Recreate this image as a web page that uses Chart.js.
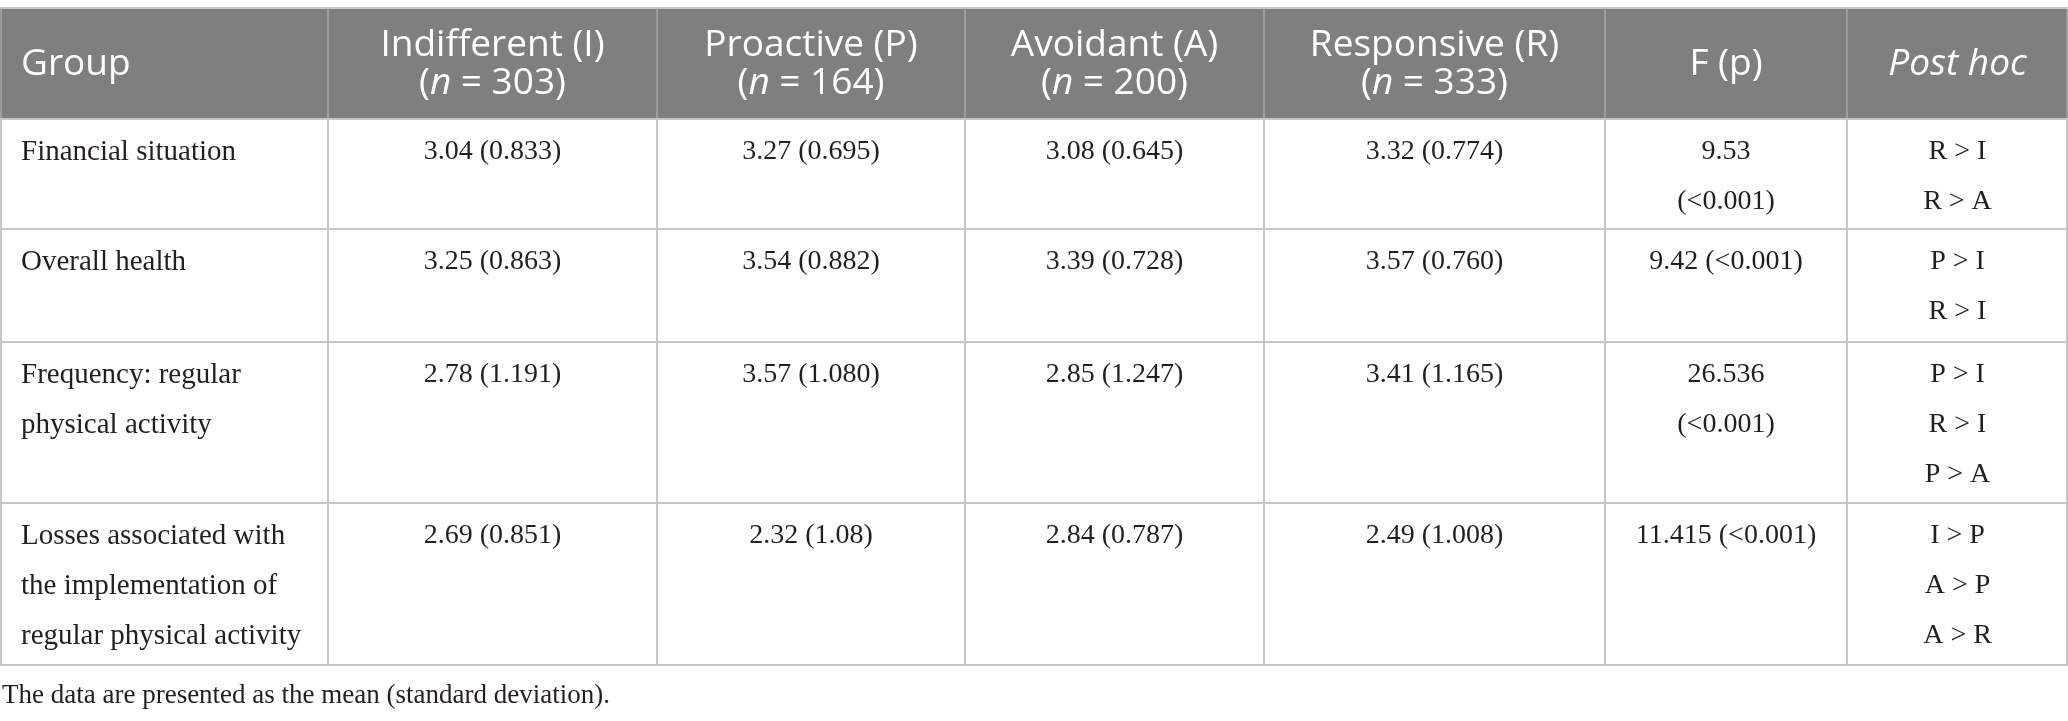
<!DOCTYPE html>
<html>
<head>
<meta charset="utf-8">
<title>Group comparison table</title>
<script src="https://cdn.jsdelivr.net/npm/chart.js@4.4.1/dist/chart.umd.min.js"></script>
<style>
  html, body { margin: 0; padding: 0; background: #fff; }
  #wrap { width: 2068px; height: 721px; }
</style>
</head>
<body>
<div id="wrap"><canvas id="chart"></canvas></div>
<script>
'use strict';
// table content
const groupNames = ['Indifferent (I)', 'Proactive (P)', 'Avoidant (A)', 'Responsive (R)'];
const groupSizes = [303, 164, 200, 333];
const rowLabels = [
  ['Financial situation'],
  ['Overall health'],
  ['Frequency: regular', 'physical activity'],
  ['Losses associated with', 'the implementation of', 'regular physical activity']
];
const meanI = [3.04, 3.25, 2.78, 2.69];
const meanP = [3.27, 3.54, 3.57, 2.32];
const meanA = [3.08, 3.39, 2.85, 2.84];
const meanR = [3.32, 3.57, 3.41, 2.49];
const sdI = ['0.833', '0.863', '1.191', '0.851'];
const sdP = ['0.695', '0.882', '1.080', '1.08'];
const sdA = ['0.645', '0.728', '1.247', '0.787'];
const sdR = ['0.774', '0.760', '1.165', '1.008'];
const fValues = ['9.53', '9.42', '26.536', '11.415'];
const pValues = ['<0.001', '<0.001', '<0.001', '<0.001'];
const postHoc = [
  ['R > I', 'R > A'],
  ['P > I', 'R > I'],
  ['P > I', 'R > I', 'P > A'],
  ['I > P', 'A > P', 'A > R']
];
const footnote = 'The data are presented as the mean (standard deviation).';

// layout (table geometry in canvas units)
const colEdges = [0, 328, 657, 965, 1264, 1605, 1847, 2068];
const rowEdges = [9, 119, 229, 342, 503, 665];
const fWrapped = [true, false, true, false];
const labelInset = 21;
const firstLine = 33;
const bodyGap = 50;
const headGap = 38;
const labelFont = '29px "Liberation Serif"';
const bodyFont = '28px "Liberation Serif"';
const noteFont = '27px "Liberation Serif"';
const headSize = 37;
const headFamily = '"Open Sans"';
const ink = '#231f20';
const headBg = '#7f807e';
const rule = '#c6c6c6';

const means = [meanI, meanP, meanA, meanR];
const sds = [sdI, sdP, sdA, sdR];

function colMid(c) { return (colEdges[c] + colEdges[c + 1]) / 2; }

// one dataset per column; each point anchors a cell's first text line
const bodyCells = [];
bodyCells.push({
  align: 'left', font: labelFont,
  data: rowLabels.map((lines, r) => ({ x: colEdges[0] + labelInset, y: rowEdges[r + 1] + firstLine, lines }))
});
for (let g = 0; g < groupNames.length; g++) {
  bodyCells.push({
    align: 'center', font: bodyFont,
    data: means[g].map((m, r) => ({ x: colMid(g + 1), y: rowEdges[r + 1] + firstLine, lines: [m.toFixed(2) + ' (' + sds[g][r] + ')'] }))
  });
}
bodyCells.push({
  align: 'center', font: bodyFont,
  data: fValues.map((f, r) => ({
    x: colMid(5), y: rowEdges[r + 1] + firstLine,
    lines: fWrapped[r] ? [f, '(' + pValues[r] + ')'] : [f + ' (' + pValues[r] + ')']
  }))
});
bodyCells.push({
  align: 'center', font: bodyFont,
  data: postHoc.map((lines, r) => ({ x: colMid(6), y: rowEdges[r + 1] + firstLine, lines }))
});

// header cells: arrays of lines, each line a list of [text, italic]
const headCells = [{ x: colEdges[0] + labelInset, align: 'left', lines: [[['Group', false]]] }];
groupNames.forEach((name, g) => {
  headCells.push({
    x: colMid(g + 1), align: 'center',
    lines: [[[name, false]], [['(', false], ['n', true], [' = ' + groupSizes[g] + ')', false]]]
  });
});
headCells.push({ x: colMid(5), align: 'center', lines: [[['F (p)', false]]] });
headCells.push({ x: colMid(6), align: 'center', lines: [[['Post hoc', true]]] });

const datasets = bodyCells.map((col, i) => ({
  label: 'col' + i,
  data: col.data,
  align: col.align,
  font: col.font,
  pointRadius: 0,
  showLine: false
}));
datasets.push({
  label: 'header',
  data: headCells.map(h => ({ x: h.x, y: (rowEdges[0] + rowEdges[1]) / 2, cell: h })),
  pointRadius: 0,
  showLine: false
});
datasets.push({
  label: 'note',
  data: [{ x: 2, y: 696 }],
  pointRadius: 0,
  showLine: false
});

const tablePlugin = {
  id: 'tablePlugin',
  beforeDatasetsDraw(chart) {
    const { ctx, scales: { x, y } } = chart;
    const px = v => x.getPixelForValue(v);
    const py = v => y.getPixelForValue(v);
    ctx.save();
    ctx.fillStyle = headBg;
    ctx.fillRect(px(colEdges[0]), py(rowEdges[0]), px(colEdges[colEdges.length - 1]) - px(colEdges[0]), py(rowEdges[1]) - py(rowEdges[0]));
    ctx.lineWidth = 2;
    // horizontal rules
    ctx.strokeStyle = rule;
    rowEdges.forEach((e, i) => {
      const yy = i === 0 ? py(e) - 1 : py(e);
      ctx.beginPath();
      ctx.moveTo(px(colEdges[0]), yy);
      ctx.lineTo(px(colEdges[colEdges.length - 1]), yy);
      ctx.stroke();
    });
    // vertical rules
    colEdges.forEach((e, i) => {
      let xx = px(e);
      if (i === 0) xx += 1;
      if (i === colEdges.length - 1) xx -= 1;
      ctx.strokeStyle = '#9c9d9b';
      ctx.beginPath();
      ctx.moveTo(xx, py(rowEdges[0]));
      ctx.lineTo(xx, py(rowEdges[1]) - 1);
      ctx.stroke();
      ctx.strokeStyle = rule;
      ctx.beginPath();
      ctx.moveTo(xx, py(rowEdges[1]));
      ctx.lineTo(xx, py(rowEdges[rowEdges.length - 1]));
      ctx.stroke();
    });
    ctx.restore();
  },
  afterDatasetsDraw(chart) {
    const { ctx } = chart;
    ctx.save();
    ctx.textBaseline = 'middle';
    chart.data.datasets.forEach((ds, di) => {
      const meta = chart.getDatasetMeta(di);
      meta.data.forEach((pt, j) => {
        const d = ds.data[j];
        if (ds.label === 'header') {
          const cell = d.cell;
          const n = cell.lines.length;
          cell.lines.forEach((segs, li) => {
            const yy = pt.y + (li - (n - 1) / 2) * headGap;
            const fonts = segs.map(s => (s[1] ? 'italic ' : '') + headSize + 'px ' + headFamily);
            let w = 0;
            segs.forEach((s, k) => { ctx.font = fonts[k]; w += ctx.measureText(s[0]).width; });
            let xx = cell.align === 'center' ? pt.x - w / 2 : pt.x;
            ctx.fillStyle = '#ffffff';
            ctx.textAlign = 'left';
            segs.forEach((s, k) => {
              ctx.font = fonts[k];
              ctx.fillText(s[0], xx, yy);
              xx += ctx.measureText(s[0]).width;
            });
          });
        } else if (ds.label === 'note') {
          ctx.font = noteFont;
          ctx.fillStyle = ink;
          ctx.textAlign = 'left';
          ctx.fillText(footnote, pt.x, pt.y);
        } else {
          ctx.font = ds.font;
          ctx.fillStyle = ink;
          ctx.textAlign = ds.align;
          d.lines.forEach((line, li) => ctx.fillText(line, pt.x, pt.y + li * bodyGap));
        }
      });
    });
    ctx.restore();
  }
};

const canvasElem = document.getElementById('chart');
const myChart = new Chart(canvasElem, {
  type: 'scatter',
  data: { datasets },
  options: {
    responsive: true,
    maintainAspectRatio: false,
    animation: false,
    events: [],
    layout: { padding: 0 },
    plugins: { legend: { display: false }, tooltip: { enabled: false } },
    scales: {
      x: { type: 'linear', min: 0, max: 2068, display: false },
      y: { type: 'linear', min: 0, max: 721, reverse: true, display: false }
    }
  },
  plugins: [tablePlugin]
});
</script>
</body>
</html>
